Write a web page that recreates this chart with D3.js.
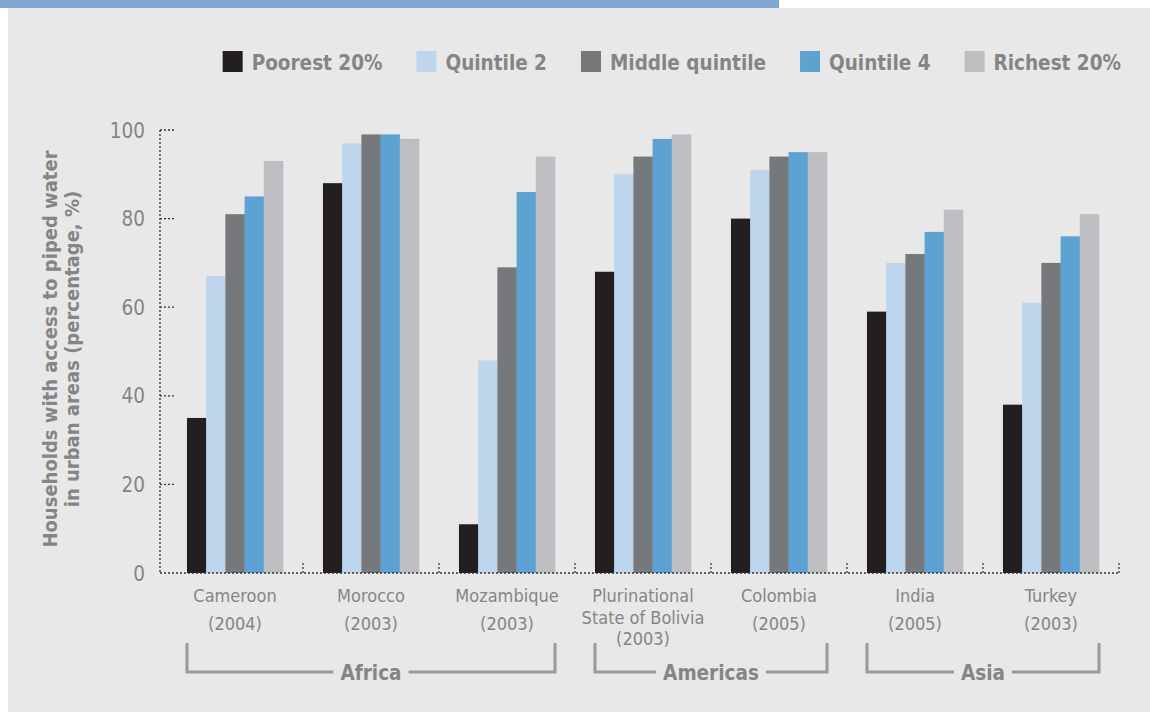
<!DOCTYPE html>
<html>
<head>
<meta charset="utf-8">
<script src="https://cdn.jsdelivr.net/npm/d3@7"></script>
<style>
  html, body { margin: 0; padding: 0; background: #fff; }
  svg { display: block; font-family: "DejaVu Sans Condensed", "Liberation Sans Narrow", "DejaVu Sans", sans-serif; }
</style>
</head>
<body>
<svg id="chart" width="1150" height="713"></svg>
<script>
// categories and series
const countries = ["Cameroon", "Morocco", "Mozambique", "Bolivia", "Colombia", "India", "Turkey"];
const countryLabels = [
  ["Cameroon", "(2004)"],
  ["Morocco", "(2003)"],
  ["Mozambique", "(2003)"],
  ["Plurinational", "State of Bolivia", "(2003)"],
  ["Colombia", "(2005)"],
  ["India", "(2005)"],
  ["Turkey", "(2003)"]
];
const quintiles = ["Poorest 20%", "Quintile 2", "Middle quintile", "Quintile 4", "Richest 20%"];
const poorest  = [35, 88, 11, 68, 80, 59, 38];
const quint2   = [67, 97, 48, 90, 91, 70, 61];
const middle   = [81, 99, 69, 94, 94, 72, 70];
const quint4   = [85, 99, 86, 98, 95, 77, 76];
const richest  = [93, 98, 94, 99, 95, 82, 81];
const regions = [
  { name: "Africa", from: "Cameroon", to: "Mozambique" },
  { name: "Americas", from: "Bolivia", to: "Colombia" },
  { name: "Asia", from: "India", to: "Turkey" }
];
const yTicks = [0, 20, 40, 60, 80, 100];

const seriesValues = [poorest, quint2, middle, quint4, richest];
const colors = ["#231f20", "#bdd6eb", "#77787b", "#5ca3d1", "#bcbec1"];
const textGray = "#858585";

const svg = d3.select("#chart");

// background panel + top stripe
svg.append("rect").attr("x", 8).attr("y", 8).attr("width", 1142).attr("height", 704).attr("fill", "#e8e8e8");
svg.append("rect").attr("x", 0).attr("y", 0).attr("width", 779).attr("height", 8).attr("fill", "#7ea8d1");

const x0 = d3.scaleBand().domain(countries).range([167, 1119]).paddingInner(0).paddingOuter(0);
const x1 = d3.scaleBand().domain(quintiles).range([0, x0.bandwidth()]).paddingInner(0).paddingOuter(1.04);
const y = d3.scaleLinear().domain([0, 100]).range([573, 130]);

const axisX = 160;

// bars
const g = svg.append("g");
countries.forEach((c, i) => {
  const grp = g.append("g").attr("transform", `translate(${x0(c)},0)`);
  quintiles.forEach((q, j) => {
    const v = seriesValues[j][i];
    grp.append("rect")
      .attr("x", x1(q))
      .attr("y", y(v))
      .attr("width", x1.bandwidth() + 0.3)
      .attr("height", y(0) - y(v))
      .attr("fill", colors[j]);
  });
});

// y axis (dotted)
const dot = sel => sel.attr("stroke", "#333").attr("stroke-width", 1.3).attr("stroke-dasharray", "2,2");
svg.append("line").attr("x1", axisX).attr("x2", axisX).attr("y1", y(100)).attr("y2", y(0)).call(dot);
yTicks.forEach(t => {
  if (t > 0) {
    svg.append("line").attr("x1", axisX).attr("x2", axisX + 16).attr("y1", y(t)).attr("y2", y(t)).call(dot);
  }
  svg.append("text")
    .attr("x", 145).attr("y", y(t) + 7.5)
    .attr("text-anchor", "end")
    .attr("font-size", 20.5)
    .attr("fill", textGray)
    .text(t);
});

// x axis (dotted) with separators
svg.append("line").attr("x1", axisX).attr("x2", 1119).attr("y1", y(0)).attr("y2", y(0)).call(dot);
countries.forEach(c => {
  const xr = x0(c) + x0.bandwidth();
  svg.append("line").attr("x1", xr).attr("x2", xr).attr("y1", y(0) - 10).attr("y2", y(0)).call(dot);
});

// category labels
countryLabels.forEach((lines, i) => {
  const cx = x0(countries[i]) + x0.bandwidth() / 2;
  const step = lines.length > 2 ? 21.5 : 28;
  lines.forEach((ln, k) => {
    svg.append("text")
      .attr("x", cx).attr("y", 602 + k * step)
      .attr("text-anchor", "middle")
      .attr("font-size", 18)
      .attr("fill", textGray)
      .text(ln);
  });
});

// region brackets
regions.forEach(r => {
  const left = x0(r.from) + x1(quintiles[0]);
  const right = x0(r.to) + x1(quintiles[4]) + x1.bandwidth();
  const mid = (left + right) / 2;
  const label = svg.append("text")
    .attr("x", mid).attr("y", 680)
    .attr("text-anchor", "middle")
    .attr("font-size", 20.5)
    .attr("font-weight", "bold")
    .attr("fill", textGray)
    .text(r.name);
  const w = label.node().getComputedTextLength();
  const gap = 7;
  const yl = 672, yt = 643;
  const stroke = sel => sel.attr("fill", "none").attr("stroke", "#9a9a9a").attr("stroke-width", 3);
  svg.append("path").attr("d", `M${left},${yt}V${yl}H${mid - w / 2 - gap}`).call(stroke);
  svg.append("path").attr("d", `M${mid + w / 2 + gap},${yl}H${right}V${yt}`).call(stroke);
});

// y-axis title
const yTitle = svg.append("text")
  .attr("transform", "translate(57,349) rotate(-90)")
  .attr("text-anchor", "middle")
  .attr("font-size", 20)
  .attr("font-weight", "bold")
  .attr("fill", textGray);
yTitle.append("tspan").attr("x", 0).attr("dy", 0).text("Households with access to piped water");
yTitle.append("tspan").attr("x", 0).attr("dy", 22).text("in urban areas (percentage, %)");

// legend, laid out right to left ending near x=1121
const legend = svg.append("g");
let lx = 1121;
for (let j = quintiles.length - 1; j >= 0; j--) {
  const t = legend.append("text")
    .attr("y", 70)
    .attr("font-size", 20.5)
    .attr("font-weight", "bold")
    .attr("fill", textGray)
    .text(quintiles[j]);
  const w = t.node().getComputedTextLength();
  const tx = lx - w;
  t.attr("x", tx);
  legend.append("rect")
    .attr("x", tx - 29).attr("y", 51)
    .attr("width", 20).attr("height", 21)
    .attr("fill", colors[j]);
  lx = tx - 29 - 34;
}
</script>
</body>
</html>
